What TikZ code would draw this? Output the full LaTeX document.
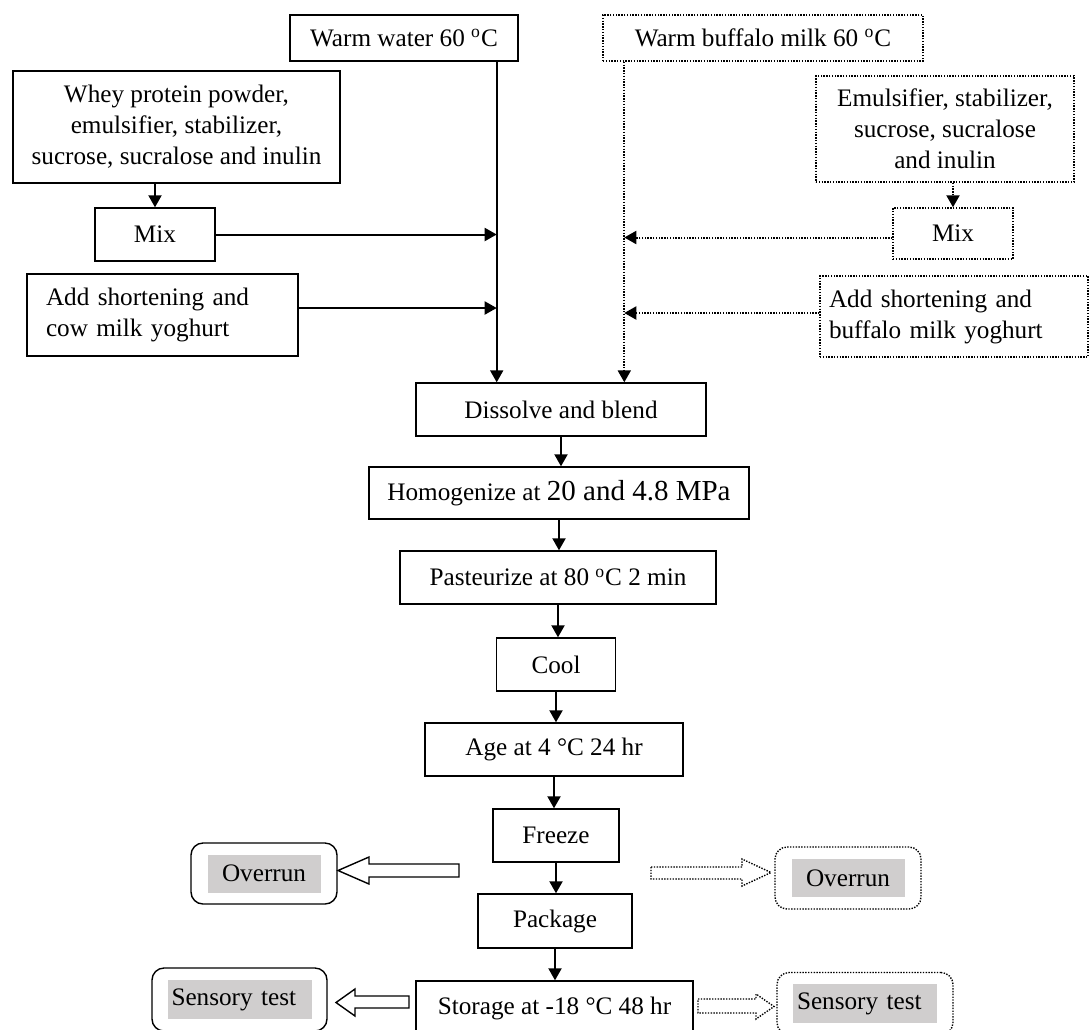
\documentclass[tikz,border=0pt]{standalone}
\usepackage{fontspec}
\setmainfont{Liberation Serif}
\usepackage{xcolor}
\usetikzlibrary{arrows.meta}
\definecolor{tagGrey}{RGB}{208,206,206}

\begin{document}
\begin{tikzpicture}[x=0.5pt, y=-0.5pt,
  font=\fontsize{12.6}{15.5}\selectfont,
  box/.style={draw, line width=0.7pt, inner sep=0pt, align=center},
  dbox/.style={box, dash pattern=on 0.7pt off 0.7pt},
  flow/.style={line width=1pt, -{Triangle[length=6pt,width=6.5pt]}},
  dflow/.style={flow, dash pattern=on 0.7pt off 0.7pt},
  tag/.style={draw, line width=0.7pt, rounded corners=6pt, inner sep=0pt},
  dtag/.style={tag, dash pattern=on 0.7pt off 0.7pt},
  shade/.style={fill=tagGrey, inner sep=0pt},
  hollow/.style={draw, line width=0.7pt, line join=miter}]
  \def\u{0.5pt}
  \useasboundingbox (0,0) rectangle (1091,1029);
  \clip (0,0) rectangle (1091,1029);

  % cow milk side
  \node[box, minimum width=228*\u, minimum height=46*\u] (water) at (404,38) {Warm water 60 \textsuperscript{o}C};
  \node[box, minimum width=327*\u, minimum height=112*\u] (whey) at (176.5,127) {Whey protein powder,\\ emulsifier, stabilizer,\\ sucrose, sucralose and inulin};
  \node[box, minimum width=120*\u, minimum height=53*\u] (mixL) at (155,234.5) {Mix};
  \node[box, text width=233*\u, inner xsep=19*\u, minimum height=82*\u, align=left] (addL) at (162.5,315) {Add shortening and\\ cow milk yoghurt};

  % buffalo milk side
  \node[dbox, minimum width=320*\u, minimum height=46*\u] (bmilk) at (763,38) {Warm buffalo milk 60 \textsuperscript{o}C};
  \node[dbox, minimum width=258*\u, minimum height=106*\u] (emul) at (945,129) {Emulsifier, stabilizer,\\ sucrose, sucralose\\ and inulin};
  \node[dbox, minimum width=120*\u, minimum height=51*\u] (mixR) at (953,233.5) {Mix};
  \node[dbox, text width=250*\u, inner xsep=9*\u, minimum height=81*\u, align=left] (addR) at (954,316.5) {Add shortening and\\ buffalo milk yoghurt};

  % common process
  \node[box, minimum width=290*\u, minimum height=53*\u] (dissolve) at (561,409.5) {Dissolve and blend};
  \node[box, minimum width=380*\u, minimum height=52*\u] (homog) at (559,493) {Homogenize at {\fontsize{14.5}{16}\selectfont 20 and 4.8 MPa}};
  \node[box, minimum width=316*\u, minimum height=53*\u] (past) at (558,577.5) {Pasteurize at 80 \textsuperscript{o}C 2 min};
  \node[box, minimum width=119*\u, minimum height=53*\u] (cool) at (556,664.5) {Cool};
  \node[box, minimum width=258*\u, minimum height=53*\u] (age) at (554,749.5) {Age at 4 °C 24 hr};
  \node[box, minimum width=126*\u, minimum height=53*\u] (freeze) at (556,835.5) {Freeze};
  \node[box, minimum width=154*\u, minimum height=54*\u] (package) at (555,921) {Package};
  \node[box, minimum width=277*\u, minimum height=54*\u] (storage) at (554.5,1008) {Storage at -18 °C 48 hr};

  % tests
  \node[tag, minimum width=146*\u, minimum height=61*\u] (ovrL) at (264,873.5) {};
  \node[shade, minimum width=113*\u, minimum height=38*\u] (ovrLtxt) at (ovrL) {Overrun};
  \node[dtag, minimum width=146*\u, minimum height=62*\u] (ovrR) at (848,878) {};
  \node[shade, minimum width=113*\u, minimum height=38*\u] (ovrRtxt) at (ovrR) {Overrun};
  \node[tag, minimum width=175*\u, minimum height=63*\u] (sensL) at (239.5,999.5) {};
  \node[shade, text width=136*\u, inner xsep=4*\u, minimum height=39*\u, align=left] (sensLtxt) at (sensL) {Sensory test};
  \node[dtag, minimum width=176*\u, minimum height=62*\u] (sensR) at (865,1003.5) {};
  \node[shade, text width=136*\u, inner xsep=4*\u, minimum height=39*\u, align=left] (sensRtxt) at (sensR) {Sensory test};

  % feeds
  \coordinate (wtap) at ([xshift=-11pt]water.south east);
  \coordinate (btap) at ([xshift=11pt]bmilk.south west);
  \draw[flow] (wtap) -- (wtap |- dissolve.north);
  \draw[flow] (whey.south -| mixL.north) -- (mixL.north);
  \draw[flow] (mixL.east) -- (mixL.east -| wtap);
  \draw[flow] ([yshift=3.5pt]addL.east) -- ([yshift=3.5pt]addL.east -| wtap);
  \draw[dflow] (btap) -- (btap |- dissolve.north);
  \draw[dflow] (emul.south -| mixR.north) -- (mixR.north);
  \draw[dflow] ([yshift=-2pt]mixR.west) -- ([yshift=-2pt]mixR.west -| btap);
  \draw[dflow] ([yshift=1.75pt]addR.west) -- ([yshift=1.75pt]addR.west -| btap);

  \foreach \a/\b in {dissolve/homog, homog/past, past/cool, cool/age, age/freeze, freeze/package, package/storage}
    \draw[flow] (\a.south) -- (\a.south |- \b.north);

  % hollow arrows
  \draw[hollow] (459,864) -- (369,864) -- (369,857) -- (338,870.5) -- (369,884) -- (369,877) -- (459,877) -- cycle;
  \draw[hollow] (409,996) -- (355,996) -- (355,989) -- (336,1002.5) -- (355,1016) -- (355,1008) -- (409,1008) -- cycle;
  \draw[hollow, dash pattern=on 0.7pt off 0.7pt] (651,867) -- (742,867) -- (742,859) -- (771,872.5) -- (742,886) -- (742,879) -- (651,879) -- cycle;
  \draw[hollow, dash pattern=on 0.7pt off 0.7pt] (698,999) -- (756,999) -- (756,994) -- (774,1006.5) -- (756,1019) -- (756,1013) -- (698,1013) -- cycle;
\end{tikzpicture}
\end{document}
